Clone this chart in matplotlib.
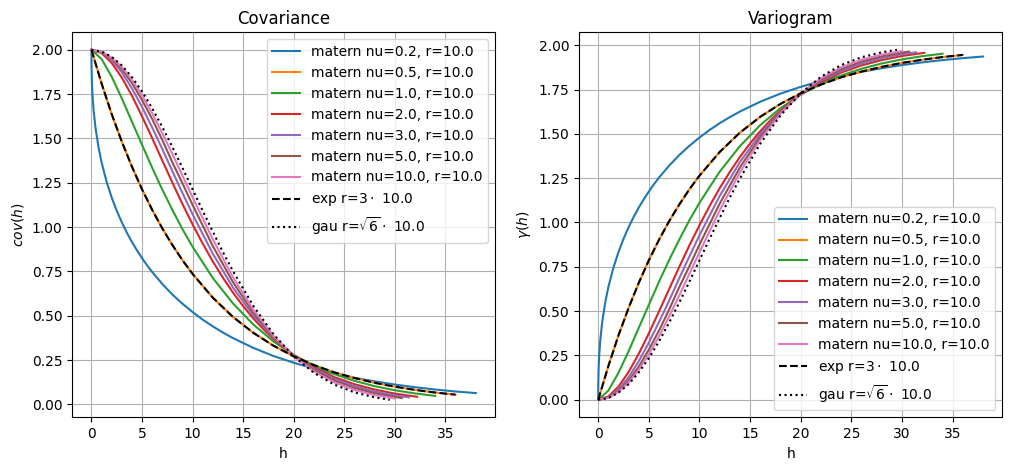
import matplotlib
matplotlib.use("Agg")
import matplotlib.pyplot as plt

SILL = 2.0

NU_LABELS = ["matern nu=0.2, r=10.0", "matern nu=0.5, r=10.0", "matern nu=1.0, r=10.0",
             "matern nu=2.0, r=10.0", "matern nu=3.0, r=10.0", "matern nu=5.0, r=10.0",
             "matern nu=10.0, r=10.0"]
EXP_LABEL = r"exp r=$3\cdot$ 10.0"
GAU_LABEL = r"gau r=$\sqrt{6}\cdot$ 10.0"

H_NU02 = [0, 0.002, 0.01, 0.05, 0.1, 0.2, 0.4, 0.7, 1, 1.5, 2, 2.5, 3, 3.5, 4, 4.5, 5, 5.5, 6,
          7, 8, 9, 10, 11, 12, 13, 14, 16, 18, 20, 22, 24, 26, 28, 30, 32, 34, 36, 38]
COV_NU02 = [2.0, 1.947, 1.899, 1.808, 1.746, 1.666, 1.559, 1.449, 1.365, 1.255, 1.167, 1.092,
            1.027, 0.9685, 0.916, 0.869, 0.825, 0.7845, 0.747, 0.6795, 0.620, 0.5676, 0.521,
            0.478, 0.440, 0.4055, 0.374, 0.319, 0.273, 0.235, 0.202, 0.174, 0.150, 0.130,
            0.112, 0.097, 0.084, 0.073, 0.064]

H_NU05 = [0, 1, 2, 3, 4, 5, 6, 7, 8, 9, 10, 12, 14, 16, 18, 20, 22, 24, 26, 28, 30, 32, 34, 36]
COV_NU05 = [2.0, 1.810, 1.637, 1.482, 1.341, 1.213, 1.098, 0.993, 0.899, 0.813, 0.736, 0.602,
            0.493, 0.404, 0.331, 0.271, 0.222, 0.181, 0.149, 0.122, 0.100, 0.082, 0.067, 0.055]

H_NU1 = [0, 1, 2, 3, 4, 5, 6, 7, 8, 9, 10, 12, 14, 16, 18, 20, 22, 24, 26, 28, 30, 32, 34]
COV_NU1 = [2.0, 1.948, 1.848, 1.726, 1.595, 1.464, 1.335, 1.212, 1.097, 0.988, 0.889, 0.713,
           0.569, 0.451, 0.355, 0.279, 0.219, 0.171, 0.133, 0.103, 0.080, 0.062, 0.048]

H_NU2 = [0, 1, 2, 3, 4, 5, 6, 7, 8, 9, 10, 11, 12, 13, 14, 15, 16, 17, 18, 19, 20,
         22, 24, 26, 28, 30, 32.2]
COV_NU2 = [2.0, 1.981, 1.926, 1.843, 1.741, 1.625, 1.502, 1.376, 1.251, 1.130, 1.015, 0.907,
           0.806, 0.714, 0.630, 0.554, 0.485, 0.424, 0.369, 0.321, 0.278,
           0.208, 0.154, 0.114, 0.084, 0.061, 0.043]

H_NU3 = [0, 1, 2, 3, 4, 5, 6, 7, 8, 9, 10, 12, 14, 16, 18, 20, 22, 24, 26, 28, 30, 31.4]
COV_NU3 = [2.0, 1.985, 1.942, 1.873, 1.783, 1.678, 1.562, 1.441, 1.315, 1.192, 1.072, 0.850,
           0.659, 0.501, 0.375, 0.276, 0.201, 0.145, 0.1035, 0.073, 0.051, 0.040]

H_NU5 = [0, 1, 2, 3, 4, 5, 6, 7, 8, 9, 10, 12, 14, 16, 18, 20, 22, 24, 26, 28, 30, 30.7]
COV_NU5 = [2.0, 1.988, 1.951, 1.892, 1.813, 1.717, 1.610, 1.492, 1.365, 1.247, 1.125, 0.893,
           0.689, 0.518, 0.380, 0.274, 0.194, 0.135, 0.0925, 0.063, 0.042, 0.036]

H_NU10 = [0, 1, 2, 3, 4, 5, 6, 7, 8, 9, 10, 12, 14, 16, 18, 20, 22, 24, 26, 28, 30]
COV_NU10 = [2.0, 1.989, 1.956, 1.903, 1.831, 1.743, 1.642, 1.530, 1.412, 1.290, 1.168, 0.931,
            0.7165, 0.534, 0.386, 0.272, 0.1865, 0.125, 0.082, 0.0526, 0.0333]

H_EXP = [0, 1, 2, 3, 4, 5, 6, 7, 8, 9, 10, 12, 14, 16, 18, 20, 22, 24, 26, 28, 30, 32, 34, 36]
COV_EXP = [2.0, 1.810, 1.637, 1.482, 1.341, 1.213, 1.098, 0.993, 0.899, 0.813, 0.736, 0.602,
           0.493, 0.404, 0.331, 0.271, 0.222, 0.181, 0.149, 0.122, 0.100, 0.082, 0.067, 0.055]

H_GAU = [0, 1, 2, 3, 4, 5, 6, 7, 8, 9, 10, 11, 12, 13, 14, 16, 18, 20, 22, 24, 26, 28, 29.5]
COV_GAU = [2.0, 1.990, 1.960, 1.912, 1.846, 1.765, 1.671, 1.565, 1.452, 1.334, 1.213, 1.092,
           0.974, 0.859, 0.751, 0.556, 0.396, 0.271, 0.178, 0.112, 0.068, 0.040, 0.026]

MATERN_H = [H_NU02, H_NU05, H_NU1, H_NU2, H_NU3, H_NU5, H_NU10]
MATERN_COV = [COV_NU02, COV_NU05, COV_NU1, COV_NU2, COV_NU3, COV_NU5, COV_NU10]

fig = plt.figure(figsize=(10.12, 4.70), dpi=100)
ax1 = fig.add_axes([0.0714, 0.1121, 0.4177, 0.8192])
ax2 = fig.add_axes([0.5721, 0.1121, 0.4183, 0.8192])

for i, (h, c) in enumerate(zip(MATERN_H, MATERN_COV)):
    ax1.plot(h, c, color=f"C{i}", label=NU_LABELS[i])
    ax2.plot(h, [SILL - v for v in c], color=f"C{i}", label=NU_LABELS[i])

ax1.plot(H_EXP, COV_EXP, "k--", label=EXP_LABEL)
ax2.plot(H_EXP, [SILL - v for v in COV_EXP], "k--", label=EXP_LABEL)
ax1.plot(H_GAU, COV_GAU, "k:", label=GAU_LABEL)
ax2.plot(H_GAU, [SILL - v for v in COV_GAU], "k:", label=GAU_LABEL)

ax1.set_title("Covariance")
ax1.set_xlabel("h")
ax1.set_ylabel(r"$cov(h)$")
ax1.grid(True)
ax1.legend(loc="upper right")

ax2.set_title("Variogram")
ax2.set_xlabel("h")
ax2.set_ylabel(r"$\gamma(h)$")
ax2.grid(True)
ax2.legend(loc="lower right")

fig.savefig("out.png", dpi=100)
